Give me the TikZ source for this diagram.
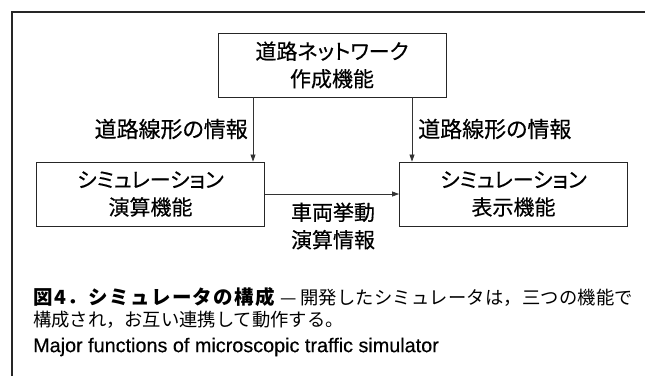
\documentclass[tikz,border=0pt]{standalone}
\usepackage{fontspec}
\setmainfont{Liberation Sans}
\newfontfamily\jp{Noto Sans CJK JP}[RawFeature=+palt, FakeBold=0.4]
\newfontfamily\jpcap{Noto Sans CJK JP}
\newfontfamily\capsans{Liberation Sans}[FakeBold=0.4]
\newcommand\gs{\hskip 0pt plus 1pt\relax}
\newcommand\gb{\hskip 1.2pt plus 1pt\relax}
\usetikzlibrary{arrows.meta}
\begin{document}
\begin{tikzpicture}[x=1pt,y=-1pt,
  box/.style={draw=black!85, line width=0.9pt, minimum width=228pt, minimum height=64pt, inner sep=0pt, align=center, font=\jp\fontsize{21}{27.5}\selectfont},
  lbl/.style={font=\jp\fontsize{21}{27.5}\selectfont, align=center, inner sep=0pt},
  captext/.style={anchor=west, inner sep=0pt, font=\jpcap\fontsize{18.3}{23}\selectfont},
  arr/.style={draw=black!80, line width=0.7pt, -{Triangle[length=7pt,width=5pt]}}]
\useasboundingbox (0,0) rectangle (645,376);
\draw[line width=1.3pt, black!85] (12,376) -- (12,12) -- (645,12);
\node[box] (net) at (332,65) {道路ネットワーク\\作成機能};
\node[box] (calc) at (150.5,194) {シミュレーション\\演算機能};
\node[box] (disp) at (513.5,194) {シミュレーション\\表示機能};
\draw[arr] ([xshift=-79pt]net.south) -- ([xshift=102.5pt]calc.north);
\draw[arr] ([xshift=80pt]net.south) -- ([xshift=-101.5pt]disp.north);
\draw[arr] (calc.east) -- (disp.west);
\node[lbl, anchor=east, font=\jp\fontsize{22}{27.5}\selectfont] (l1) at (248,129) {道路線形の情報};
\node[lbl, anchor=west, font=\jp\fontsize{22}{27.5}\selectfont] (l2) at (418,129) {道路線形の情報};
\node[lbl] (veh) at (333,226) {車両挙動\\演算情報};
\node[captext] (cap1) at (33,297) {\makebox[600pt][s]{{\fontsize{19.5}{23}\selectfont\bfseries 図\gb 4\gb ．\gb シ\gb ミ\gb ュ\gb レ\gb ー\gb タ\gb の\gb 構\gb 成}\hskip 5pt plus 1pt —\hskip 3pt plus 1pt 開\gs 発\gs し\gs た\gs シ\gs ミ\gs ュ\gs レ\gs ー\gs タ\gs は\gs ，\gs 三\gs つ\gs の\gs 機\gs 能\gs で}};
\node[captext] (cap2) at (33,320) {構成され，お互い連携して動作する。};
\node[anchor=west, inner sep=0pt, font=\capsans\fontsize{19.8}{23}\selectfont] (cap3) at (33,347) {Major functions of microscopic traffic simulator};
\end{tikzpicture}
\end{document}
